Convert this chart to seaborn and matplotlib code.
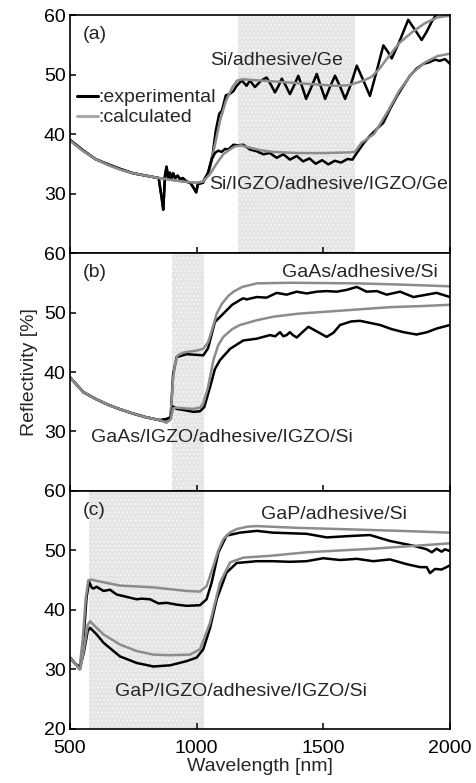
import numpy as np
import pandas as pd
import matplotlib
matplotlib.use("Agg")
import matplotlib.pyplot as plt
import seaborn as sns
from matplotlib.lines import Line2D

# ---------------- data ----------------
# Panel (a): Si/adhesive/Ge and Si/IGZO/adhesive/IGZO/Ge
early_x = [500, 550, 600, 650, 700, 750, 800, 850]
early_exp_a = [39.0, 37.3, 35.8, 34.9, 34.1, 33.4, 33.0, 32.6]
noise_x = [862, 868, 875, 881, 888, 894, 900, 907, 915, 925, 934, 945, 960, 975, 990, 998]
noise_y = [29.2, 27.3, 33.0, 34.5, 32.5, 33.5, 32.4, 33.4, 32.6, 33.0, 32.4, 32.6, 32.0, 31.8, 30.8, 30.2]

a_ge_exp_x = early_x + noise_x + [1005, 1025, 1045, 1063, 1075, 1089, 1100, 1115, 1129, 1145, 1158, 1178, 1197, 1210, 1230, 1255, 1276, 1293, 1309, 1322, 1336, 1352, 1368, 1385, 1401, 1416, 1432, 1453, 1474, 1490, 1507, 1526, 1546, 1566, 1586, 1610, 1632, 1658, 1684, 1710, 1737, 1755, 1770, 1800, 1835, 1862, 1888, 1908, 1928, 1947, 1975, 2000]
a_ge_exp_y = early_exp_a + noise_y + [31.6, 31.8, 33.5, 36.5, 40.5, 43.4, 44.0, 46.5, 46.7, 47.2, 48.1, 49.0, 48.1, 49.0, 47.9, 49.0, 49.5, 48.3, 47.0, 48.0, 49.3, 48.1, 46.7, 48.2, 49.8, 48.0, 45.9, 47.9, 50.1, 48.0, 45.9, 47.9, 49.8, 48.0, 45.9, 48.5, 51.5, 49.0, 46.4, 50.5, 54.9, 53.8, 52.7, 55.5, 59.2, 57.5, 55.8, 57.2, 58.9, 60.2, 61.0, 61.5]

a_ge_calc_x = [500, 550, 600, 650, 700, 750, 800, 850, 900, 950, 1000, 1025, 1050, 1066, 1092, 1115, 1140, 1160, 1180, 1250, 1350, 1450, 1550, 1600, 1630, 1660, 1690, 1720, 1750, 1800, 1850, 1900, 1950, 2000]
a_ge_calc_y = [38.9, 37.2, 35.8, 34.8, 34.0, 33.4, 33.0, 32.6, 32.3, 32.0, 31.8, 32.0, 33.8, 37.0, 42.2, 45.5, 47.8, 49.0, 49.2, 49.0, 48.7, 48.4, 48.1, 48.2, 48.6, 49.0, 49.6, 50.9, 52.6, 55.3, 57.1, 58.6, 59.6, 59.9]

a_igzo_exp_x = early_x + noise_x + [1005, 1025, 1045, 1060, 1072, 1085, 1099, 1112, 1125, 1145, 1164, 1184, 1210, 1237, 1263, 1289, 1316, 1342, 1368, 1395, 1420, 1445, 1470, 1495, 1520, 1545, 1570, 1595, 1615, 1632, 1660, 1684, 1710, 1737, 1763, 1790, 1816, 1842, 1868, 1895, 1921, 1940, 1960, 1980, 2000]
a_igzo_exp_y = early_exp_a + noise_y + [31.6, 31.9, 33.5, 35.8, 36.8, 37.2, 37.0, 37.5, 37.4, 38.2, 38.1, 38.2, 37.4, 37.1, 36.6, 36.8, 36.0, 36.6, 35.7, 36.3, 35.4, 35.9, 35.0, 35.6, 34.9, 35.5, 35.2, 35.8, 35.7, 36.8, 38.5, 39.7, 40.8, 41.9, 44.2, 46.3, 48.1, 49.8, 51.0, 51.8, 52.1, 52.5, 52.3, 52.6, 51.8]

a_igzo_calc_x = [500, 550, 600, 650, 700, 750, 800, 850, 900, 950, 1000, 1025, 1053, 1075, 1105, 1125, 1150, 1175, 1200, 1250, 1300, 1400, 1500, 1600, 1625, 1650, 1700, 1750, 1800, 1850, 1900, 1950, 2000]
a_igzo_calc_y = [38.9, 37.2, 35.8, 34.8, 34.0, 33.4, 33.0, 32.6, 32.3, 32.0, 31.8, 32.0, 33.3, 34.8, 36.6, 37.2, 37.9, 38.1, 37.8, 37.3, 37.0, 36.8, 36.8, 36.9, 37.0, 38.5, 40.0, 43.5, 47.3, 50.2, 52.0, 53.1, 53.5]

# Panel (b): GaAs/adhesive/Si and GaAs/IGZO/adhesive/IGZO/Si
b_early_x = [500, 553, 600, 650, 700, 750, 800, 855]
b_early_y = [39.1, 36.6, 35.5, 34.5, 33.7, 33.0, 32.4, 31.9]

b_si_calc_x = b_early_x + [881, 897, 907, 915, 925, 950, 1000, 1026, 1045, 1060, 1079, 1100, 1125, 1145, 1180, 1237, 1368, 1632, 1800, 2000]
b_si_calc_y = b_early_y + [31.5, 32.5, 39.0, 41.5, 42.8, 43.3, 43.6, 43.9, 45.0, 47.0, 49.8, 51.5, 52.8, 53.5, 54.3, 54.9, 55.0, 54.9, 54.7, 54.4]

b_si_exp_x = b_early_x + [881, 897, 907, 921, 960, 1026, 1045, 1060, 1072, 1105, 1140, 1171, 1184, 1197, 1237, 1276, 1316, 1355, 1395, 1434, 1474, 1513, 1553, 1592, 1632, 1671, 1711, 1750, 1803, 1855, 1895, 1947, 2000]
b_si_exp_y = b_early_y + [32.1, 32.3, 39.7, 42.5, 43.0, 42.8, 44.0, 46.5, 48.4, 49.8, 51.3, 52.1, 52.4, 52.2, 52.6, 52.5, 53.3, 53.0, 53.5, 53.2, 53.5, 53.6, 53.5, 53.8, 54.3, 53.5, 53.6, 53.0, 53.5, 52.6, 52.9, 53.3, 52.6]

b_igzo_calc_x = b_early_x + [881, 897, 907, 920, 950, 986, 1013, 1026, 1045, 1066, 1085, 1105, 1140, 1171, 1237, 1303, 1400, 1500, 1632, 1763, 1900, 2000]
b_igzo_calc_y = b_early_y + [31.5, 32.0, 33.9, 34.0, 33.9, 33.8, 34.0, 34.7, 37.5, 42.0, 44.5, 45.9, 47.2, 47.9, 48.7, 49.3, 49.8, 50.1, 50.5, 50.9, 51.1, 51.3]

b_igzo_exp_x = b_early_x + [881, 897, 907, 920, 950, 986, 1013, 1030, 1053, 1072, 1092, 1132, 1184, 1237, 1289, 1310, 1329, 1342, 1355, 1368, 1380, 1395, 1420, 1441, 1475, 1513, 1540, 1566, 1610, 1645, 1724, 1770, 1816, 1868, 1910, 1947, 2000]
b_igzo_exp_y = b_early_y + [32.1, 32.4, 34.2, 33.8, 33.6, 33.3, 33.4, 34.1, 37.5, 40.5, 42.0, 43.9, 45.3, 45.6, 46.2, 46.0, 46.7, 46.0, 46.2, 46.7, 46.2, 45.8, 46.8, 47.6, 46.8, 45.9, 46.6, 47.9, 48.5, 48.6, 47.9, 47.2, 46.7, 46.3, 46.7, 47.3, 47.9]

# Panel (c): GaP/adhesive/Si and GaP/IGZO/adhesive/IGZO/Si
c_si_calc_x = [500, 520, 537, 550, 562, 572, 585, 605, 697, 829, 960, 1013, 1039, 1066, 1085, 1105, 1130, 1158, 1200, 1237, 1400, 1566, 1800, 2000]
c_si_calc_y = [32.0, 31.0, 30.0, 35.0, 42.0, 45.0, 45.1, 44.9, 44.1, 43.8, 43.2, 43.1, 44.0, 47.4, 50.0, 51.9, 53.0, 53.6, 54.0, 54.1, 53.8, 53.6, 53.3, 53.0]

c_si_exp_x = [500, 520, 540, 555, 565, 575, 585, 592, 605, 632, 658, 684, 724, 763, 783, 816, 849, 882, 921, 960, 1013, 1039, 1059, 1086, 1118, 1171, 1237, 1300, 1368, 1434, 1513, 1592, 1684, 1763, 1855, 1908, 1928, 1947, 1967, 1980, 2000]
c_si_exp_y = [32.0, 31.0, 30.3, 36.0, 42.0, 44.8, 43.8, 43.6, 43.9, 43.2, 43.4, 42.6, 42.2, 41.8, 41.9, 41.8, 41.1, 41.2, 40.9, 40.7, 40.8, 41.8, 44.6, 49.7, 52.5, 53.0, 53.3, 53.0, 52.9, 52.8, 52.2, 52.4, 52.6, 51.6, 50.8, 50.2, 49.7, 50.3, 49.8, 50.2, 49.9]

c_igzo_calc_x = [500, 520, 540, 555, 570, 579, 605, 632, 697, 763, 829, 895, 974, 1013, 1053, 1092, 1132, 1184, 1289, 1434, 1697, 2000]
c_igzo_calc_y = [32.0, 31.0, 30.0, 33.5, 37.5, 38.1, 37.0, 35.9, 34.2, 33.1, 32.5, 32.4, 32.5, 33.4, 37.9, 44.6, 48.0, 48.8, 49.1, 49.7, 50.3, 51.2]

c_igzo_exp_x = [500, 520, 540, 555, 570, 579, 605, 632, 697, 763, 829, 895, 960, 1000, 1026, 1053, 1079, 1118, 1158, 1237, 1300, 1368, 1434, 1500, 1566, 1632, 1697, 1763, 1829, 1882, 1908, 1921, 1941, 1967, 2000]
c_igzo_exp_y = [32.0, 31.0, 30.3, 33.0, 36.5, 37.0, 35.9, 34.5, 32.2, 31.1, 30.5, 30.7, 31.4, 32.0, 33.4, 37.0, 41.8, 46.3, 47.9, 48.2, 48.2, 48.1, 48.2, 48.7, 48.4, 48.6, 48.2, 48.5, 47.7, 47.2, 47.2, 46.2, 46.9, 46.8, 47.5]

x_ticks = [500, 1000, 1500, 2000]
shade_a = (1163, 1625)
shade_b = (903, 1030)
shade_c = (575, 1030)

# ---------------- styling ----------------
sns.set_theme(style="ticks")
plt.rcParams["font.family"] = ["Liberation Sans", "DejaVu Sans"]
plt.rcParams["hatch.linewidth"] = 1.0
FS = 14
BLACK = "#000000"
GRAY = "#8c8c8c"

fig, axes = plt.subplots(3, 1, figsize=(4.77, 7.83), dpi=100, sharex=True,
                         gridspec_kw=dict(hspace=0))
fig.subplots_adjust(left=0.1468, right=0.9434, top=0.9808, bottom=0.069)


def draw(ax, xe, ye, xc, yc):
    sns.lineplot(x=xe, y=ye, ax=ax, color=BLACK, lw=1.8, estimator=None, sort=False)
    sns.lineplot(x=xc, y=yc, ax=ax, color=GRAY, lw=1.8, estimator=None, sort=False)


panels = [
    (axes[0], shade_a, [(a_ge_exp_x, a_ge_exp_y, a_ge_calc_x, a_ge_calc_y),
                        (a_igzo_exp_x, a_igzo_exp_y, a_igzo_calc_x, a_igzo_calc_y)]),
    (axes[1], shade_b, [(b_si_exp_x, b_si_exp_y, b_si_calc_x, b_si_calc_y),
                        (b_igzo_exp_x, b_igzo_exp_y, b_igzo_calc_x, b_igzo_calc_y)]),
    (axes[2], shade_c, [(c_si_exp_x, c_si_exp_y, c_si_calc_x, c_si_calc_y),
                        (c_igzo_exp_x, c_igzo_exp_y, c_igzo_calc_x, c_igzo_calc_y)]),
]

for ax, shade, curves in panels:
    ax.axvspan(shade[0], shade[1], facecolor="#e4e4e4", edgecolor="#f4f4f4",
               hatch="....", lw=0, zorder=0)
    for c in curves:
        draw(ax, *c)
    ax.set_xlim(500, 2000)
    ax.set_ylim(20, 60)
    ax.set_xlabel("")
    ax.set_ylabel("")
    for s in ax.spines.values():
        s.set_visible(True)
        s.set_color("black")
        s.set_linewidth(1.2)
    ax.tick_params(direction="in", length=4, width=1.1, labelsize=FS,
                   colors="black", pad=3)
    ax.tick_params(axis="x", labelbottom=False)

axes[0].set_yticks([30, 40, 50, 60])
axes[1].set_yticks([30, 40, 50, 60])
axes[2].set_yticks([20, 30, 40, 50, 60])
axes[2].set_xticks(x_ticks)
axes[2].tick_params(axis="x", labelbottom=True, pad=8)

# panel labels
for ax, lab in zip(axes, ["(a)", "(b)", "(c)"]):
    ax.text(0.034, 0.92, lab, transform=ax.transAxes, fontsize=FS, va="center", ha="left")

# annotations
axes[0].text(1053, 52.4, "Si/adhesive/Ge", fontsize=FS, va="center", ha="left")
axes[0].text(1050, 31.5, "Si/IGZO/adhesive/IGZO/Ge", fontsize=FS, va="center", ha="left")
axes[1].text(1337, 56.8, "GaAs/adhesive/Si", fontsize=FS, va="center", ha="left")
axes[1].text(583, 29.0, "GaAs/IGZO/adhesive/IGZO/Si", fontsize=FS, va="center", ha="left")
axes[2].text(1254, 56.0, "GaP/adhesive/Si", fontsize=FS, va="center", ha="left")
axes[2].text(678, 26.3, "GaP/IGZO/adhesive/IGZO/Si", fontsize=FS, va="center", ha="left")

# legend
handles = [Line2D([], [], color=BLACK, lw=2.2), Line2D([], [], color="#aaaaaa", lw=2.2)]
axes[0].legend(handles, [":experimental", ":calculated"], loc="upper left",
               bbox_to_anchor=(0.018, 0.69), frameon=False, fontsize=FS,
               handlelength=1.1, handletextpad=0.0, labelspacing=0.12,
               borderpad=0, borderaxespad=0)

axes[1].set_ylabel("Reflectivity [%]", fontsize=FS, labelpad=4)
axes[2].set_xlabel("Wavelength [nm]", fontsize=FS, labelpad=1)

fig.savefig("out.png", dpi=100)
